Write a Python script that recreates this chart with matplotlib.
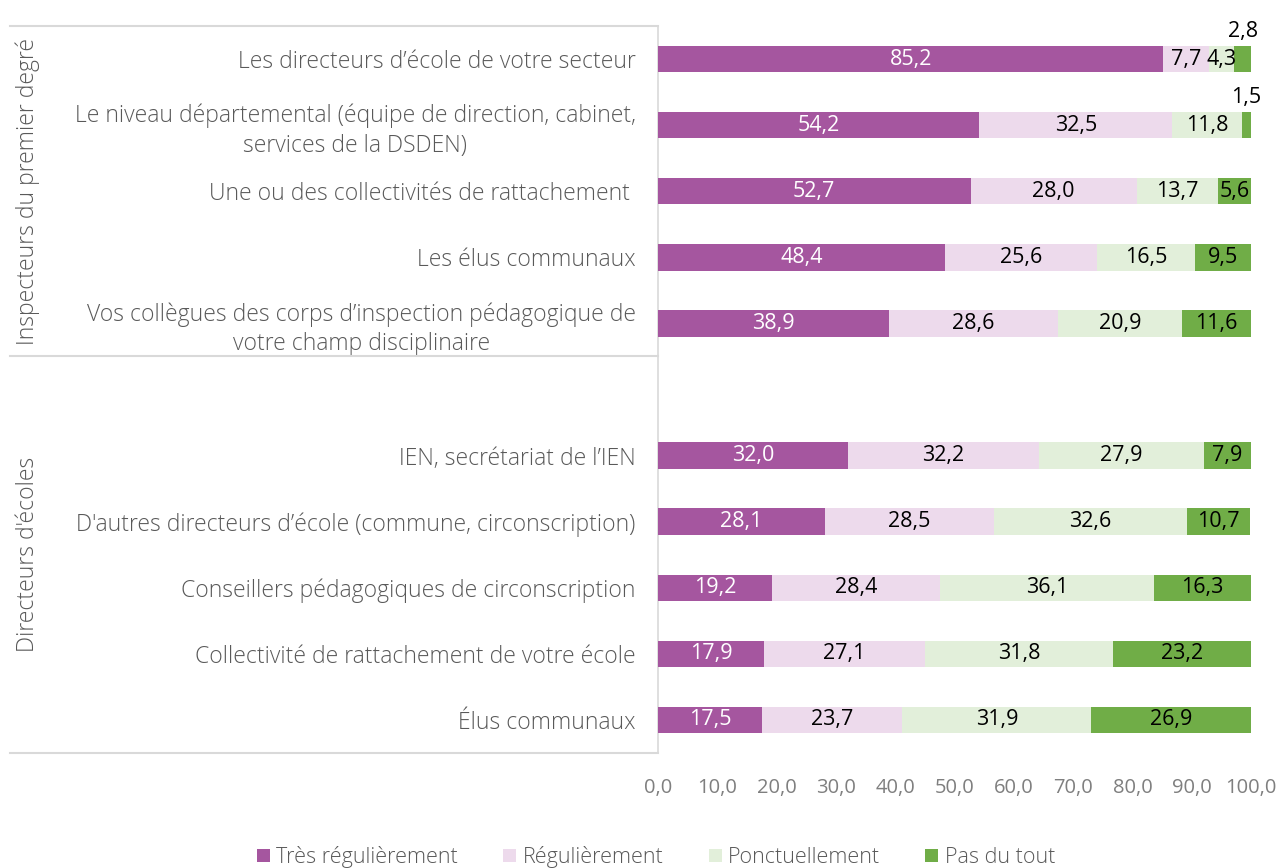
import matplotlib
matplotlib.use("Agg")
import matplotlib.pyplot as plt
from matplotlib.lines import Line2D
from matplotlib.patches import Patch

plt.rcParams['font.family'] = ['Open Sans', 'DejaVu Sans']

categories = [
    "Les directeurs d’école de votre secteur",
    "Le niveau départemental (équipe de direction, cabinet,\nservices de la DSDEN)",
    "Une ou des collectivités de rattachement ",
    "Les élus communaux",
    "Vos collègues des corps d’inspection pédagogique de\nvotre champ disciplinaire",
    "IEN, secrétariat de l’IEN",
    "D'autres directeurs d’école (commune, circonscription)",
    "Conseillers pédagogiques de circonscription",
    "Collectivité de rattachement de votre école",
    "Élus communaux",
]
groups = ["Inspecteurs du premier degré", "Directeurs d'écoles"]
group_sizes = [5, 5]

tres_reg = [85.2, 54.2, 52.7, 48.4, 38.9, 32.0, 28.1, 19.2, 17.9, 17.5]
reg = [7.7, 32.5, 28.0, 25.6, 28.6, 32.2, 28.5, 28.4, 27.1, 23.7]
ponct = [4.3, 11.8, 13.7, 16.5, 20.9, 27.9, 32.6, 36.1, 31.8, 31.9]
pas = [2.8, 1.5, 5.6, 9.5, 11.6, 7.9, 10.7, 16.3, 23.2, 26.9]

series_names = ["Très régulièrement", "Régulièrement", "Ponctuellement", "Pas du tout"]
series = [tres_reg, reg, ponct, pas]
colors = ["#A5569F", "#EDDAEC", "#E2EFDA", "#70AD47"]
text_colors = ["white", "black", "black", "black"]

FS_LAB = 16.5
FS_VAL = 15.5
FS_TICK = 14.5
FS_LEG = 15.5
fig = plt.figure(figsize=(12.8, 8.68), dpi=100)
W, H = 1280, 868
x0, x1, ytop, ybot = 658, 1251, 26, 753
ax = fig.add_axes([x0 / W, 1 - ybot / H, (x1 - x0) / W, (ybot - ytop) / H])

positions = []
slot = 0
for gi, n in enumerate(group_sizes):
    for k in range(n):
        positions.append(slot)
        slot += 1
    if gi < len(group_sizes) - 1:
        slot += 1
nslots = slot

left = [0.0] * len(categories)
for s, vals in enumerate(series):
    ax.barh(positions, vals, left=left, height=0.4, color=colors[s],
            label=series_names[s], zorder=3)
    for i, v in enumerate(vals):
        cx = left[i] + v / 2
        lab = f"{v:.1f}".replace(".", ",")
        if v < 3:
            ax.text(cx, positions[i] - 0.42, lab, ha="center", va="center",
                    fontsize=FS_VAL, color="black", zorder=4)
        else:
            ax.text(cx, positions[i], lab, ha="center", va="center",
                    fontsize=FS_VAL, color=text_colors[s], zorder=4)
    left = [l + v for l, v in zip(left, vals)]

ax.set_xlim(0, 100)
ax.set_ylim(nslots - 0.5, -0.5)
ax.set_xticks(range(0, 101, 10))
ax.set_xticklabels([f"{t},0" for t in range(0, 101, 10)], fontsize=FS_TICK,
                   color="#7F7F7F")
ax.tick_params(axis="x", length=0, pad=18)
ax.set_yticks(positions)
ax.set_yticklabels(categories, fontsize=FS_LAB, color="#595959", fontweight="light",
                   linespacing=1.32, multialignment="center")
ax.tick_params(axis="y", length=0, pad=16)
for sp in ["top", "right", "bottom"]:
    ax.spines[sp].set_visible(False)
ax.spines["left"].set_color("#D9D9D9")
ax.spines["left"].set_linewidth(1.2)

line_col = "#D9D9D9"
ax_h = ybot - ytop
slot_px = ax_h / nslots
boundaries = [ytop]
start = 0
for gi, n in enumerate(group_sizes):
    last = positions[start + n - 1]
    if gi < len(group_sizes) - 1:
        b = ytop + (last + 1.0) * slot_px
    else:
        b = ybot
    boundaries.append(b)
    start += n
for b in boundaries:
    fig.add_artist(Line2D([10 / W, x0 / W], [1 - b / H, 1 - b / H],
                          color=line_col, lw=1.5))
for gi, g in enumerate(groups):
    yc = (boundaries[gi] + boundaries[gi + 1]) / 2
    fig.text(28 / W, 1 - yc / H, g, rotation=90, ha="center", va="center",
             fontsize=FS_LAB, color="#595959", fontweight="light")

handles = [Patch(facecolor=c, label=n) for c, n in zip(colors, series_names)]
leg = fig.legend(handles=handles, loc="center", bbox_to_anchor=(656 / W, 1 - 857 / H),
                 ncol=4, frameon=False, handlelength=0.6,
                 handleheight=0.6, handletextpad=0.3, columnspacing=2.1,
                 prop={"weight": "light", "size": FS_LEG})
for t in leg.get_texts():
    t.set_color("#595959")

fig.savefig("out.png", dpi=100)
